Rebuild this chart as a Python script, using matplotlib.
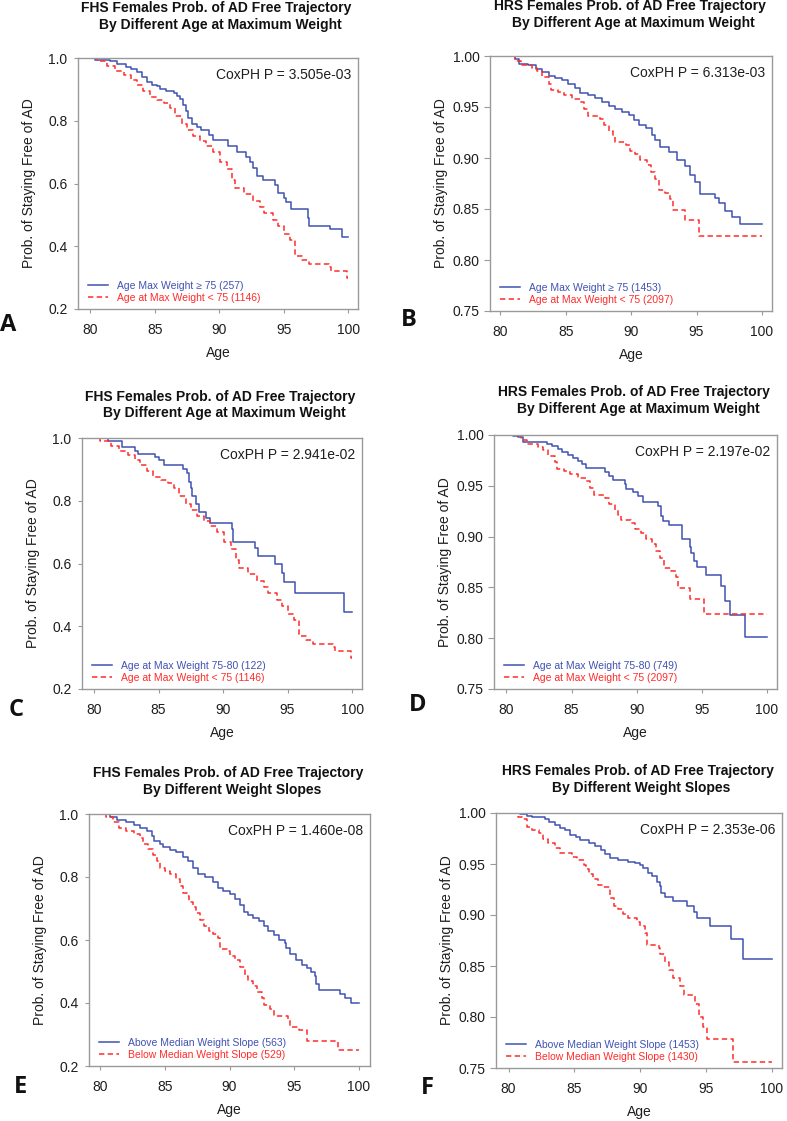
import matplotlib
matplotlib.use("Agg")
import matplotlib.pyplot as plt

plt.rcParams['font.family'] = ['Liberation Sans', 'DejaVu Sans']

# ---------------- data ----------------
# Panel A (FHS, age at max weight >= 75 vs < 75)
a_blue_age = [79.0, 80.4, 81.5, 82.1, 82.8, 83.2, 83.6, 84.0, 84.4, 84.8, 85.2, 85.4, 85.9, 86.5, 86.7,
              87.0, 87.2, 87.4, 87.6, 87.9, 88.3, 88.6, 89.2, 89.5, 90.7, 91.4, 92.1, 92.4, 92.6, 92.9,
              93.4, 94.3, 94.6, 95.0, 95.2, 95.6, 96.9, 97.0, 98.6, 99.5, 100.0]
a_blue_surv = [1.0, 0.995, 0.99, 0.98, 0.97, 0.965, 0.955, 0.94, 0.925, 0.915, 0.91, 0.90, 0.895, 0.89, 0.88,
               0.87, 0.85, 0.83, 0.81, 0.79, 0.78, 0.77, 0.755, 0.74, 0.72, 0.70, 0.685, 0.67, 0.65, 0.625,
               0.61, 0.595, 0.57, 0.555, 0.54, 0.52, 0.49, 0.465, 0.455, 0.43, 0.43]
fhs_low_age = [79.0, 80.5, 81.3, 81.9, 82.6, 83.2, 83.6, 84.1, 84.6, 85.2, 85.7, 86.2, 86.6, 87.1, 87.5,
               88.0, 88.5, 89.0, 89.5, 90.1, 90.6, 91.0, 91.2, 91.9, 92.6, 93.2, 93.5, 94.2, 94.6, 95.0,
               95.5, 95.9, 96.4, 97.0, 98.5, 98.7, 99.9, 100.0]
fhs_low_surv = [1.0, 0.99, 0.975, 0.96, 0.945, 0.93, 0.915, 0.895, 0.875, 0.865, 0.855, 0.84, 0.815, 0.79, 0.77,
                0.75, 0.735, 0.72, 0.70, 0.67, 0.645, 0.61, 0.585, 0.565, 0.545, 0.525, 0.505, 0.485, 0.465, 0.44,
                0.42, 0.37, 0.355, 0.345, 0.335, 0.32, 0.30, 0.30]

# Panel B (HRS, age at max weight >= 75 vs < 75)
b_blue_age = [79.0, 81.1, 81.4, 82.1, 82.7, 83.2, 83.7, 84.2, 84.7, 85.2, 85.7, 86.1, 86.7, 87.2, 87.8,
              88.3, 88.8, 89.3, 89.8, 90.2, 90.6, 91.1, 91.6, 91.8, 92.2, 92.9, 93.5, 94.1, 94.5, 94.9,
              95.3, 96.4, 96.7, 97.2, 97.7, 98.3, 100.0]
b_blue_surv = [1.0, 0.997, 0.992, 0.991, 0.987, 0.984, 0.98, 0.978, 0.976, 0.973, 0.969, 0.964, 0.962, 0.959, 0.955,
               0.951, 0.948, 0.945, 0.942, 0.937, 0.932, 0.929, 0.923, 0.918, 0.911, 0.906, 0.898, 0.892, 0.883, 0.876,
               0.865, 0.861, 0.856, 0.848, 0.842, 0.835, 0.835]
hrs_low_age = [79.0, 81.1, 81.6, 82.4, 82.8, 83.2, 83.7, 83.9, 84.4, 84.9, 85.5, 86.1, 86.4, 86.7, 87.6,
               87.9, 88.3, 88.6, 88.8, 89.6, 89.9, 90.3, 90.7, 91.2, 91.5, 91.8, 92.1, 92.6, 93.0, 93.2,
               94.1, 95.2, 100.0]
hrs_low_surv = [1.0, 0.995, 0.991, 0.988, 0.985, 0.979, 0.973, 0.967, 0.965, 0.962, 0.958, 0.955, 0.948, 0.941, 0.938,
                0.932, 0.926, 0.921, 0.916, 0.913, 0.907, 0.904, 0.898, 0.893, 0.886, 0.879, 0.869, 0.866, 0.86, 0.849,
                0.839, 0.824, 0.824]

# Panel C (FHS, age at max weight 75-80)
c_blue_age = [79.0, 81.05, 82.2, 83.2, 83.4, 84.7, 85.0, 85.4, 86.9, 87.2, 87.4, 87.5, 87.6, 87.9, 88.1,
              88.7, 89.0, 90.7, 90.8, 92.5, 92.7, 94.0, 94.6, 94.7, 95.6, 99.4, 100.0]
c_blue_surv = [1.0, 0.99, 0.97, 0.96, 0.95, 0.94, 0.93, 0.915, 0.90, 0.89, 0.86, 0.84, 0.815, 0.79, 0.765,
               0.745, 0.73, 0.71, 0.67, 0.65, 0.625, 0.60, 0.57, 0.54, 0.505, 0.445, 0.445]

# Panel D (HRS, age at max weight 75-80)
d_blue_age = [79.0, 80.5, 80.9, 81.3, 83.1, 83.5, 84.0, 84.3, 84.7, 85.1, 85.5, 85.8, 86.1, 87.6, 87.9,
              88.2, 89.1, 89.2, 89.7, 90.1, 90.5, 91.6, 91.9, 92.0, 92.5, 93.5, 94.1, 94.2, 94.4, 94.6,
              95.3, 96.5, 96.8, 97.2, 98.3, 100.0]
d_blue_surv = [1.0, 0.999, 0.998, 0.993, 0.991, 0.989, 0.986, 0.983, 0.98, 0.977, 0.974, 0.971, 0.968, 0.964, 0.96,
               0.956, 0.952, 0.947, 0.944, 0.94, 0.934, 0.93, 0.92, 0.915, 0.911, 0.898, 0.89, 0.884, 0.876, 0.87,
               0.862, 0.851, 0.837, 0.823, 0.801, 0.801]

# Panel E (FHS, weight slopes)
e_blue_age = [79.0, 80.75, 81.3, 82.0, 82.6, 83.1, 83.6, 84.0, 84.2, 84.6, 84.9, 85.4, 85.9, 86.4, 86.8,
              87.2, 87.6, 88.1, 88.7, 89.1, 89.5, 90.0, 90.4, 90.8, 91.1, 91.4, 91.8, 92.3, 92.7, 93.0,
              93.4, 93.8, 94.3, 94.4, 94.7, 95.1, 95.6, 96.0, 96.3, 96.6, 96.7, 96.95, 98.5, 98.9, 99.4, 100.0]
e_blue_surv = [1.0, 0.99, 0.98, 0.975, 0.965, 0.955, 0.945, 0.93, 0.915, 0.905, 0.895, 0.885, 0.878, 0.865, 0.85,
               0.83, 0.81, 0.80, 0.785, 0.765, 0.755, 0.745, 0.73, 0.71, 0.69, 0.68, 0.67, 0.66, 0.645, 0.63,
               0.615, 0.60, 0.59, 0.575, 0.555, 0.535, 0.52, 0.51, 0.50, 0.485, 0.46, 0.44, 0.43, 0.415, 0.40, 0.40]
e_red_age = [79.0, 80.5, 81.0, 81.5, 82.0, 82.6, 83.1, 83.3, 83.7, 84.1, 84.4, 84.6, 85.0, 85.4, 85.9,
             86.2, 86.4, 86.7, 86.9, 87.2, 87.4, 87.7, 88.0, 88.4, 88.7, 89.1, 89.3, 89.8, 90.0, 90.4,
             90.8, 91.2, 91.4, 91.8, 92.1, 92.5, 92.7, 93.1, 93.4, 94.5, 94.7, 95.4, 96.0, 98.4, 100.0]
e_red_surv = [1.0, 0.99, 0.975, 0.955, 0.945, 0.935, 0.925, 0.905, 0.89, 0.87, 0.85, 0.83, 0.82, 0.81, 0.795,
              0.77, 0.75, 0.74, 0.72, 0.705, 0.685, 0.665, 0.645, 0.63, 0.62, 0.605, 0.57, 0.565, 0.55, 0.535,
              0.515, 0.485, 0.47, 0.455, 0.435, 0.415, 0.395, 0.38, 0.36, 0.345, 0.325, 0.315, 0.28, 0.25, 0.25]

# Panel F (HRS, weight slopes)
f_blue_age = [79.0, 80.9, 81.4, 81.75, 82.8, 83.1, 83.5, 83.9, 84.3, 84.7, 85.1, 85.4, 86.1, 86.6, 87.0,
              87.3, 87.7, 88.35, 89.1, 89.6, 90.0, 90.25, 90.6, 90.9, 91.3, 91.5, 91.6, 91.9, 92.5, 93.55,
              94.1, 94.3, 95.3, 96.9, 97.8, 100.0]
f_blue_surv = [1.0, 0.999, 0.997, 0.996, 0.994, 0.991, 0.988, 0.985, 0.983, 0.978, 0.976, 0.974, 0.971, 0.968, 0.964,
               0.96, 0.956, 0.954, 0.952, 0.951, 0.949, 0.946, 0.941, 0.938, 0.932, 0.928, 0.922, 0.918, 0.914, 0.909,
               0.903, 0.897, 0.889, 0.876, 0.857, 0.857]
f_red_age = [79.0, 80.7, 81.0, 81.4, 81.75, 82.3, 82.6, 83.0, 83.5, 83.9, 84.8, 85.2, 85.7, 85.9, 86.1,
             86.45, 86.8, 87.2, 87.7, 88.0, 88.35, 88.7, 89.1, 89.75, 90.0, 90.4, 90.5, 91.4, 91.5, 91.9,
             92.2, 92.5, 93.0, 93.3, 94.2, 94.5, 94.8, 95.1, 97.1, 100.0]
f_red_surv = [1.0, 0.996, 0.994, 0.986, 0.983, 0.98, 0.975, 0.971, 0.966, 0.961, 0.957, 0.954, 0.949, 0.945, 0.94,
              0.935, 0.929, 0.927, 0.917, 0.909, 0.906, 0.901, 0.897, 0.893, 0.889, 0.882, 0.871, 0.868, 0.862, 0.854,
              0.846, 0.838, 0.83, 0.822, 0.813, 0.80, 0.79, 0.778, 0.756, 0.756]

x_ticks = [80, 85, 90, 95, 100]
fhs_yticks = [0.2, 0.4, 0.6, 0.8, 1.0]
hrs_yticks = [0.75, 0.80, 0.85, 0.90, 0.95, 1.00]

titles = [
    "FHS Females Prob. of AD Free Trajectory\nBy Different Age at Maximum Weight",
    "HRS Females Prob. of AD Free Trajectory\nBy Different Age at Maximum Weight",
    "FHS Females Prob. of AD Free Trajectory\nBy Different Age at Maximum Weight",
    "HRS Females Prob. of AD Free Trajectory\nBy Different Age at Maximum Weight",
    "FHS Females Prob. of AD Free Trajectory\nBy Different Weight Slopes",
    "HRS Females Prob. of AD Free Trajectory\nBy Different Weight Slopes",
]
pvalues = ["CoxPH P = 3.505e-03", "CoxPH P = 6.313e-03", "CoxPH P = 2.941e-02",
           "CoxPH P = 2.197e-02", "CoxPH P = 1.460e-08", "CoxPH P = 2.353e-06"]
blue_labels = ["Age Max Weight \u2265 75 (257)", "Age Max Weight \u2265 75 (1453)",
               "Age at Max Weight 75-80 (122)", "Age at Max Weight 75-80 (749)",
               "Above Median Weight Slope (563)", "Above Median Weight Slope (1453)"]
red_labels = ["Age at Max Weight < 75 (1146)", "Age at Max Weight < 75 (2097)",
              "Age at Max Weight < 75 (1146)", "Age at Max Weight < 75 (2097)",
              "Below Median Weight Slope (529)", "Below Median Weight Slope (1430)"]
panel_letters = ["A", "B", "C", "D", "E", "F"]

blue_series = [(a_blue_age, a_blue_surv), (b_blue_age, b_blue_surv), (c_blue_age, c_blue_surv),
               (d_blue_age, d_blue_surv), (e_blue_age, e_blue_surv), (f_blue_age, f_blue_surv)]
red_series = [(fhs_low_age, fhs_low_surv), (hrs_low_age, hrs_low_surv), (fhs_low_age, fhs_low_surv),
              (hrs_low_age, hrs_low_surv), (e_red_age, e_red_surv), (f_red_age, f_red_surv)]

# ---------------- layout (pixels) ----------------
W, H = 787, 1121
# left, right, top, bottom
boxes = [(78, 358, 58, 309), (490, 772, 56, 311),
         (82, 362, 438, 689), (494, 777, 435, 689),
         (89, 370, 814, 1066), (496, 782, 813, 1068)]
xlims = [(79.05, 100.77), (79.21, 100.77), (79.07, 100.77),
         (79.05, 100.77), (79.15, 100.85), (79.04, 100.79)]
title_y = [(8, 25), (6, 23), (397, 413), (392, 409), (773, 790), (771, 788)]
letter_pos = [(8, 325), (409, 320), (16, 710), (418, 705), (20, 1087), (427, 1088)]

BLUE = "#4052b2"
RED = "#ff2b2b"
GRAY = "#9a9a9a"
TXT = "#1e1e1e"

fig = plt.figure(figsize=(W / 100, H / 100), dpi=100)

for i in range(6):
    l, r, t, b = boxes[i]
    pw, ph = r - l, b - t
    ax = fig.add_axes([l / W, 1 - b / H, pw / W, ph / H])
    bx, by = blue_series[i]
    rx, ry = red_series[i]
    ax.step(bx, by, where="post", color=BLUE, lw=1.1, label=blue_labels[i])
    ax.step(rx, ry, where="post", color=RED, lw=1.1, linestyle=(0, (3.5, 2.2)), label=red_labels[i])
    ax.set_xlim(*xlims[i])
    if i in (0, 2, 4):
        ax.set_ylim(0.2, 1.0)
        ax.set_yticks(fhs_yticks)
        ax.set_yticklabels([f"{v:.1f}" for v in fhs_yticks])
        ylen = 3.0
    else:
        ax.set_ylim(0.75, 1.0)
        ax.set_yticks(hrs_yticks)
        ax.set_yticklabels([f"{v:.2f}" for v in hrs_yticks])
        ylen = 4.5
    ax.set_xticks(x_ticks)
    ax.tick_params(axis="both", direction="out", width=0.8, color=GRAY,
                   labelsize=10, labelcolor=TXT)
    ax.tick_params(axis="x", length=3.0, pad=7)
    ax.tick_params(axis="y", length=ylen, pad=4.5 - (ylen - 3.0))
    for s in ax.spines.values():
        s.set_color(GRAY)
        s.set_linewidth(1.0)
    ax.set_xlabel("Age", fontsize=10, color=TXT, va="center")
    ax.xaxis.set_label_coords(0.5, -44 / ph)
    ax.set_ylabel("Prob. of Staying Free of AD", fontsize=10, color=TXT, va="center")
    ax.yaxis.set_label_coords(-49 / pw, 0.5)
    ax.text(1 - 7 / pw, 1 - 17 / ph, pvalues[i], transform=ax.transAxes,
            ha="right", va="center", fontsize=10, color=TXT)
    ax.legend(loc="lower left", bbox_to_anchor=(10 / pw, 6 / ph), borderaxespad=0,
              borderpad=0, frameon=False, fontsize=7.5, handlelength=1.9,
              handletextpad=0.85, labelspacing=0.2, labelcolor="linecolor")
    # title lines
    cx = (l + r) / 2
    line1, line2 = titles[i].split("\n")
    fig.text((cx - 1.5) / W, 1 - title_y[i][0] / H, line1, ha="center", va="center",
             fontsize=10, fontweight="bold", color="#111111")
    fig.text((cx + 2.5) / W, 1 - title_y[i][1] / H, line2, ha="center", va="center",
             fontsize=10, fontweight="bold", color="#111111")
    lx, ly = letter_pos[i]
    fig.text(lx / W, 1 - ly / H, panel_letters[i], ha="center", va="center",
             fontsize=17, fontweight="bold", family=["Open Sans", "DejaVu Sans"], color="#111111")

fig.savefig("out.png", dpi=100)
